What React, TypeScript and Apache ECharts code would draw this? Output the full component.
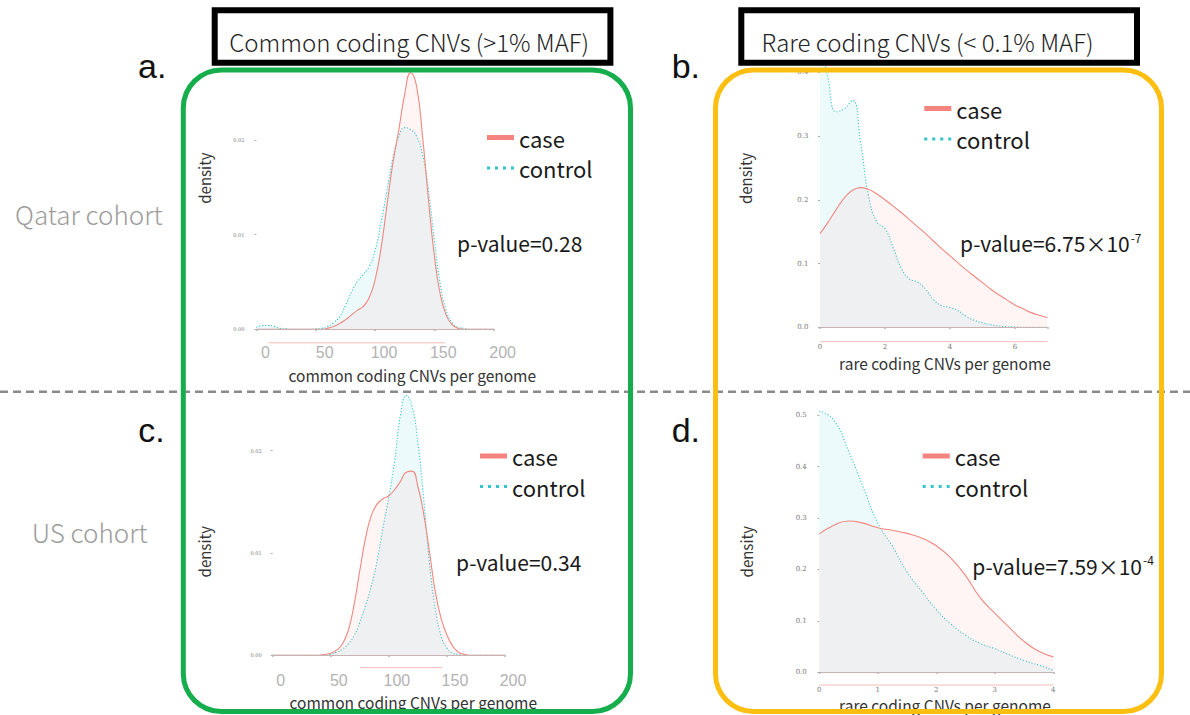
import React, { useEffect, useRef } from "react";
import * as echarts from "echarts";

// ---------- data ----------
const commonX = [0, 5, 10, 15, 20, 25, 30, 35, 40, 45, 50, 55, 60, 65, 70, 75, 80, 85, 90, 95, 100, 105, 110, 115, 120, 125, 130, 135, 140, 145, 150, 155, 160, 165, 170, 175, 180, 185, 190, 195, 200];
const qatarCommonCase = [0, 0, 0, 0, 0, 0, 0, 0, 0, 0, 0, 0, 0.0001, 0.0003, 0.0006, 0.001, 0.0015, 0.002, 0.0024, 0.0033, 0.0052, 0.0085, 0.013, 0.0175, 0.021, 0.0248, 0.0271, 0.0257, 0.0205, 0.0138, 0.0078, 0.0037, 0.0015, 0.0005, 0.0001, 0, 0, 0, 0, 0, 0];
const qatarCommonControl = [0.0002, 0.0004, 0.0004, 0.0003, 0.0001, 0.00005, 0, 0, 0, 0, 0.00005, 0.0001, 0.0003, 0.0007, 0.0013, 0.0025, 0.0039, 0.005, 0.0058, 0.0066, 0.0083, 0.0112, 0.0146, 0.018, 0.0203, 0.0213, 0.0211, 0.0204, 0.0185, 0.0148, 0.0095, 0.0048, 0.002, 0.0007, 0.0002, 0.0001, 0, 0, 0, 0, 0];
const usCommonCase = [0, 0, 0, 0, 0, 0, 0, 0, 0, 0.0001, 0.0002, 0.0005, 0.0011, 0.0024, 0.0049, 0.0083, 0.0115, 0.0137, 0.0148, 0.0153, 0.0156, 0.0162, 0.017, 0.0179, 0.018, 0.0165, 0.0138, 0.0101, 0.0062, 0.0036, 0.002, 0.0009, 0.0003, 0.0001, 0, 0, 0, 0, 0, 0, 0];
const usCommonControl = [0, 0, 0, 0, 0, 0, 0, 0, 0, 0, 0.0001, 0.0003, 0.0006, 0.0011, 0.0019, 0.0032, 0.0049, 0.0068, 0.0093, 0.0125, 0.0155, 0.019, 0.0235, 0.0254, 0.0243, 0.0208, 0.0153, 0.009, 0.0045, 0.0019, 0.0007, 0.0002, 0.0001, 0, 0, 0, 0, 0, 0, 0, 0];

const qatarRareX = [0, 0.25, 0.5, 0.75, 1, 1.25, 1.5, 1.75, 2, 2.25, 2.5, 2.75, 3, 3.25, 3.5, 3.75, 4, 4.25, 4.5, 4.75, 5, 5.25, 5.5, 5.75, 6, 6.25, 6.5, 6.75, 7];
const qatarRareCase = [0.147, 0.165, 0.185, 0.203, 0.215, 0.219, 0.216, 0.209, 0.2, 0.19, 0.18, 0.169, 0.158, 0.147, 0.135, 0.123, 0.112, 0.101, 0.09, 0.08, 0.07, 0.06, 0.051, 0.043, 0.035, 0.029, 0.023, 0.019, 0.015];
const qatarRareControl = [0.46, 0.39, 0.338, 0.343, 0.356, 0.29, 0.205, 0.165, 0.155, 0.125, 0.093, 0.076, 0.071, 0.06, 0.043, 0.034, 0.031, 0.026, 0.017, 0.011, 0.007, 0.004, 0.002, 0.001, 0.0005, 0, 0, 0, 0];

const usRareX = [0, 0.25, 0.5, 0.75, 1, 1.25, 1.5, 1.75, 2, 2.25, 2.5, 2.75, 3, 3.25, 3.5, 3.75, 4];
const usRareCase = [0.269, 0.286, 0.294, 0.29, 0.281, 0.276, 0.27, 0.261, 0.246, 0.222, 0.188, 0.145, 0.115, 0.087, 0.06, 0.041, 0.03];
const usRareControl = [0.508, 0.49, 0.43, 0.36, 0.29, 0.245, 0.195, 0.158, 0.122, 0.094, 0.072, 0.056, 0.046, 0.034, 0.023, 0.014, 0.004];

const seriesNames = ["case", "control"];
const panelLetters = ["a.", "b.", "c.", "d."];
const cohortLabels = ["Qatar cohort", "US cohort"];
const columnTitles = ["Common coding CNVs (>1% MAF)", "Rare coding CNVs (< 0.1% MAF)"];
const xAxisTitles = ["common coding CNVs per genome", "rare coding CNVs per genome", "common coding CNVs per genome", "rare coding CNVs per genome"];
const pValueMain = ["p-value=0.28", "p-value=6.75×10", "p-value=0.34", "p-value=7.59×10"];
const pValueExp = ["", "-7", "", "-4"];
// [min, max, interval]
const xScales = [[0, 200, 50], [0, 7, 2], [0, 200, 50], [0, 4, 1]];
const yScales = [[0, 0.0275, 0.01], [0, 0.41, 0.1], [0, 0.026, 0.01], [0, 0.52, 0.1]];
const yDecimals = [2, 1, 2, 1];
const rugRanges = [[10, 159], [0, 7], [75, 146], [0, 4]];

// ---------- styles / layout ----------
const F = "'Noto Sans CJK JP', 'Noto Sans', sans-serif";
const SERIF = "'DejaVu Serif', 'Liberation Serif', serif";
const ARIAL = "'Liberation Sans', Arial, sans-serif";
const CASE = "#f08880";
const CTRL = "#3cc6cd";

const layout = [
  { left: 256.4, top: 68.9, width: 237.2, height: 260.4, xOff: 13.5, yOff: 10.5, big: true, lm: 2, pad: 18, yFont: 5, legend: [487, 125.5], p: [457, 243], title: [412.3, 374.5], dens: [204, 178] },
  { left: 820, top: 65.9, width: 227.5, height: 261.4, xOff: 14.4, yOff: 10, big: false, lm: 1.5, pad: 0, yFont: 7, legend: [924.3, 96.5], p: [960, 243.3], title: [945, 363.3], dens: [745, 178.3] },
  { left: 272.7, top: 389.3, width: 232.3, height: 266, xOff: 12.4, yOff: 9.5, big: true, lm: 4.5, pad: 16, yFont: 5, legend: [480, 444], p: [456, 562.3], title: [413.3, 702], dens: [204, 551.7] },
  { left: 819.3, top: 404.8, width: 234, height: 267.5, xOff: 12.7, yOff: 11, big: false, lm: 1.5, pad: 0, yFont: 7, legend: [922.7, 444], p: [972.3, 565.7], title: [945, 704.5], dens: [746.7, 551.7] },
];

const onGrid = (v: number, step: number) => Math.abs(v / step - Math.round(v / step)) < 1e-6;

export default function App() {
  const ref = useRef<HTMLDivElement>(null);
  useEffect(() => {
    if (!ref.current) return;
    const chart = echarts.init(ref.current, undefined, { renderer: "svg" });
    const panels = [
      { x: commonX, cs: qatarCommonCase, ct: qatarCommonControl },
      { x: qatarRareX, cs: qatarRareCase, ct: qatarRareControl },
      { x: commonX, cs: usCommonCase, ct: usCommonControl },
      { x: usRareX, cs: usRareCase, ct: usRareControl },
    ];

    const grid = layout.map((L) => ({ left: L.left, top: L.top, width: L.width, height: L.height, containLabel: false }));
    const xAxis = layout.map((L, i) => ({
      type: "value",
      gridIndex: i,
      min: xScales[i][0],
      max: xScales[i][1],
      interval: xScales[i][2],
      offset: L.xOff,
      splitLine: { show: false },
      axisLine: { show: false },
      axisTick: { show: true, length: 1.5, lineStyle: { color: "#999", width: 1.5 } },
      axisLabel: {
        show: true,
        margin: L.lm,
        fontSize: L.big ? 16 : 7,
        lineHeight: L.big ? 16 : 7,
        fontFamily: L.big ? ARIAL : SERIF,
        color: L.big ? "#b3b3b3" : "#777",
        padding: L.big ? [0, 0, 0, L.pad] : 0,
        formatter: (v: number) => (onGrid(v, xScales[i][2]) ? String(v) : ""),
      },
    }));
    const yAxis = layout.map((L, i) => ({
      type: "value",
      gridIndex: i,
      min: yScales[i][0],
      max: yScales[i][1],
      interval: yScales[i][2],
      offset: L.yOff,
      splitLine: { show: false },
      axisLine: { show: false },
      axisTick: { show: true, length: 2, lineStyle: { color: "#999", width: 0.8 } },
      axisLabel: {
        margin: 1.5,
        fontSize: L.yFont,
        fontFamily: SERIF,
        color: "#777",
        showMaxLabel: false,
        formatter: (v: number) => (onGrid(v, yScales[i][2]) ? v.toFixed(yDecimals[i]) : ""),
      },
    }));

    const series: any[] = [];
    panels.forEach((P, i) => {
      series.push({
        type: "line",
        name: seriesNames[1],
        xAxisIndex: i,
        yAxisIndex: i,
        data: P.x.map((v, k) => [v, P.ct[k]]),
        smooth: 0.5,
        symbol: "none",
        showSymbol: false,
        clip: true,
        z: 2,
        lineStyle: { color: CTRL, width: 1.1, type: [1.2, 1.8] },
        itemStyle: { color: CTRL },
        areaStyle: { color: "rgba(0,191,196,0.1)" },
        markLine: {
          silent: true,
          symbol: "none",
          label: { show: false },
          lineStyle: { color: CTRL, type: [1.2, 1.8], width: 1 },
          data: [{ yAxis: 0 }],
        },
      });
      series.push({
        type: "line",
        name: seriesNames[0],
        xAxisIndex: i,
        yAxisIndex: i,
        data: P.x.map((v, k) => [v, P.cs[k]]),
        smooth: 0.5,
        symbol: "none",
        showSymbol: false,
        clip: true,
        z: 3,
        lineStyle: { color: CASE, width: 1.1 },
        itemStyle: { color: CASE },
        areaStyle: { color: "rgba(248,118,109,0.1)" },
        markLine: {
          silent: true,
          symbol: "none",
          label: { show: false },
          lineStyle: { color: "#c9b3b2", type: "solid", width: 1 },
          data: [{ yAxis: 0 }],
        },
      });
    });

    const legend = layout.map((L) => ({
      orient: "vertical",
      left: L.legend[0],
      top: L.legend[1],
      padding: 0,
      itemWidth: 27,
      itemHeight: 5,
      itemGap: 6.5,
      selectedMode: false,
      itemStyle: { borderWidth: 0 },
      textStyle: { fontSize: 22, fontFamily: F, color: "#1a1a1a", lineHeight: 24 },
      data: [
        { name: seriesNames[0], icon: "rect", itemStyle: { color: "#f5847e" } },
        { name: seriesNames[1], icon: "path://M0,0h3v3h-3z M8,0h3v3h-3z M16,0h3v3h-3z M24,0h3v3h-3z", itemStyle: { color: "#34c5cc" } },
      ],
    }));

    chart.setOption({ animation: false, grid, xAxis, yAxis, series, legend });

    const els: any[] = [];
    // dashed separator
    els.push({ type: "line", z: 5, shape: { x1: 0, y1: 391.7, x2: 1190, y2: 391.7 }, style: { stroke: "#8a8a8a", lineWidth: 2.5, lineDash: [8, 5] } });
    // panel borders
    els.push({ type: "rect", z: 50, shape: { x: 183.3, y: 70, width: 447.2, height: 641.5, r: 38 }, style: { fill: "none", stroke: "#16ad4c", lineWidth: 5 } });
    els.push({ type: "rect", z: 50, shape: { x: 715.5, y: 70, width: 446, height: 641.5, r: 38 }, style: { fill: "none", stroke: "#fcbf11", lineWidth: 5 } });
    // column title boxes
    const boxes = [[214.7, 409.2], [741.3, 927.5]];
    boxes.forEach((b, i) => {
      els.push({ type: "rect", z: 60, shape: { x: b[0], y: 10.3, width: 395.7, height: 52.4 }, style: { fill: "#fff", stroke: "#000", lineWidth: 6 } });
      els.push({ type: "text", z: 61, x: b[1], y: 41.5, style: { text: columnTitles[i], fontSize: 24, fontWeight: 300, fontFamily: F, fill: "#222", align: "center", verticalAlign: "middle" } });
    });
    // panel letters
    const letterPos = [[138, 66], [671.7, 66], [138.3, 430], [671.7, 430]];
    letterPos.forEach((p, i) => {
      els.push({ type: "text", z: 30, x: p[0], y: p[1], style: { text: panelLetters[i], fontSize: 34, fontFamily: ARIAL, fill: "#111", align: "left", verticalAlign: "middle" } });
    });
    // cohort labels
    els.push({ type: "text", z: 30, x: 15, y: 213, style: { text: cohortLabels[0], fontSize: 26, fontWeight: 300, fontFamily: F, fill: "#9c9c9c", align: "left", verticalAlign: "middle" } });
    els.push({ type: "text", z: 30, x: 31.7, y: 531.7, style: { text: cohortLabels[1], fontSize: 26, fontWeight: 300, fontFamily: F, fill: "#9c9c9c", align: "left", verticalAlign: "middle" } });

    layout.forEach((L, i) => {
      // axis titles
      els.push({ type: "text", z: 30, x: L.title[0], y: L.title[1], style: { text: xAxisTitles[i], fontSize: 15.5, fontFamily: F, fill: "#333", align: "center", verticalAlign: "middle" } });
      // density
      els.push({ type: "text", z: 30, x: L.dens[0], y: L.dens[1], rotation: Math.PI / 2, style: { text: "density", fontSize: 15, fontFamily: F, fill: "#333", align: "center", verticalAlign: "middle" } });
      // p-values
      const rich = {
        m: { fontSize: 21, fontFamily: F, fill: "#1a1a1a", color: "#1a1a1a", lineHeight: 24 },
        s: { fontSize: 12, fontFamily: F, fill: "#1a1a1a", color: "#1a1a1a", lineHeight: 12, verticalAlign: "top", padding: [0, 0, 0, 1] },
      };
      const text = pValueExp[i] ? `{m|${pValueMain[i]}}{s|${pValueExp[i]}}` : `{m|${pValueMain[i]}}`;
      els.push({ type: "text", z: 55, x: L.p[0], y: L.p[1], style: { text, rich, align: "left", verticalAlign: "middle" } });
      // rug-like pink range line under the axis
      const a = chart.convertToPixel({ xAxisIndex: i, yAxisIndex: i } as any, [rugRanges[i][0], 0]) as number[];
      const b = chart.convertToPixel({ xAxisIndex: i, yAxisIndex: i } as any, [rugRanges[i][1], 0]) as number[];
      if (a && b) {
        els.push({ type: "line", z: 4, shape: { x1: a[0], y1: a[1] + L.xOff, x2: b[0], y2: b[1] + L.xOff }, style: { stroke: "#f6bcb8", lineWidth: 1 } });
      }
    });

    chart.setOption({ graphic: { elements: els } });
    return () => chart.dispose();
  }, []);
  return <div ref={ref} style={{ position: "absolute", left: 0, top: 0, width: 1190, height: 715, background: "#fff" }} />;
}
